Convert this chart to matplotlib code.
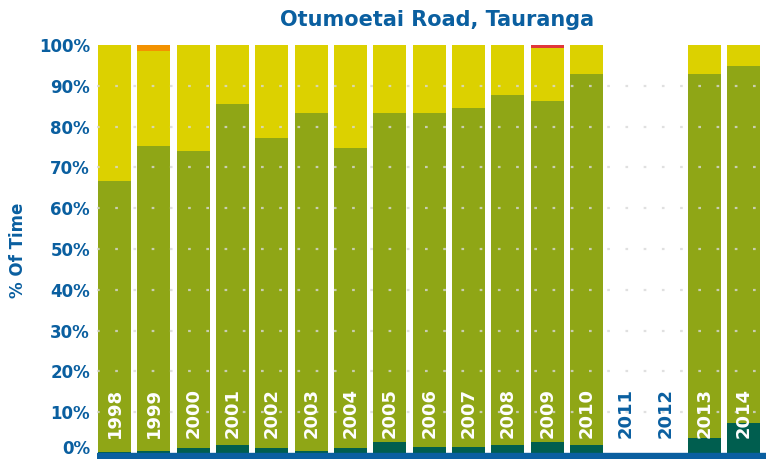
import matplotlib.pyplot as plt
import matplotlib.transforms as mtransforms
import numpy as np

plt.rcParams['font.family'] = ['DejaVu Sans']

years = ['1998', '1999', '2000', '2001', '2002', '2003', '2004', '2005', '2006',
         '2007', '2008', '2009', '2010', '2011', '2012', '2013', '2014']
# % of time in each category (no data for 2011 and 2012)
excellent = [0.3, 0.5, 1.1, 1.9, 1.1, 0.5, 1.1, 2.7, 1.5, 1.5, 1.9, 2.7, 1.9, 0, 0, 3.7, 7.4]
good = [66.4, 74.8, 72.9, 83.6, 76.1, 82.8, 73.7, 80.6, 81.8, 83.1, 85.8, 83.6, 91.0, 0, 0, 89.2, 87.5]
acceptable = [33.3, 23.2, 26.0, 14.5, 22.8, 16.7, 25.2, 16.7, 16.7, 15.4, 12.3, 13.0, 7.1, 0, 0, 7.1, 5.1]
alert = [0, 1.5, 0, 0, 0, 0, 0, 0, 0, 0, 0, 0, 0, 0, 0, 0, 0]
action = [0, 0, 0, 0, 0, 0, 0, 0, 0, 0, 0, 0.7, 0, 0, 0, 0, 0]
no_data = ['2011', '2012']

blue = '#0a5fa0'
colors = ['#005e4f', '#8fa616', '#dcd100', '#f39200', '#e0383a']

fig = plt.figure(figsize=(7.68, 4.59), dpi=100)
ax = fig.add_axes([97 / 768, 0, 669 / 768, 414 / 459])

x = np.arange(len(years))
bottom = np.zeros(len(years))
for vals, c in zip([excellent, good, acceptable, alert, action], colors):
    ax.bar(x, vals, bottom=bottom, width=0.84, color=c, zorder=2)
    bottom += np.array(vals)

for i, yr in enumerate(years):
    col = blue if yr in no_data else 'white'
    ax.text(i, 3.7, yr, rotation=90, ha='center', va='bottom', color=col,
            fontsize=13, fontweight='bold', zorder=4)

ax.axhspan(-1.5, 0, color=blue, zorder=5)
ax.set_xlim(-0.445, 16.56)
ax.set_ylim(-1.5, 100)

ax.set_yticks(np.arange(0, 101, 10))
ax.set_yticklabels(['%d%%' % v for v in range(0, 101, 10)])
ax.tick_params(axis='y', length=0, pad=5, labelsize=12, labelcolor=blue)
for lab in ax.get_yticklabels():
    lab.set_fontweight('bold')
# nudge the 0% label up so it stays inside the picture
zero = ax.get_yticklabels()[0]
zero.set_transform(zero.get_transform() + mtransforms.ScaledTranslation(0, 4 / 72, fig.dpi_scale_trans))
ax.set_xticks([])
for s in ax.spines.values():
    s.set_visible(False)

for v in range(10, 100, 10):
    ax.axhline(v, color='#d9d9d9', linestyle=(0, (1.2, 7)), linewidth=1.6, alpha=0.8, zorder=3)

fig.text(18 / 768, 1 - 250 / 459, '% Of Time', rotation=90, ha='center', va='center',
         color=blue, fontsize=12, fontweight='bold')

fig.text(437 / 768, 1 - 20 / 459, 'Otumoetai Road, Tauranga', ha='center', va='center',
         color=blue, fontsize=15, fontweight='bold')

plt.savefig('out.png', dpi=100)
